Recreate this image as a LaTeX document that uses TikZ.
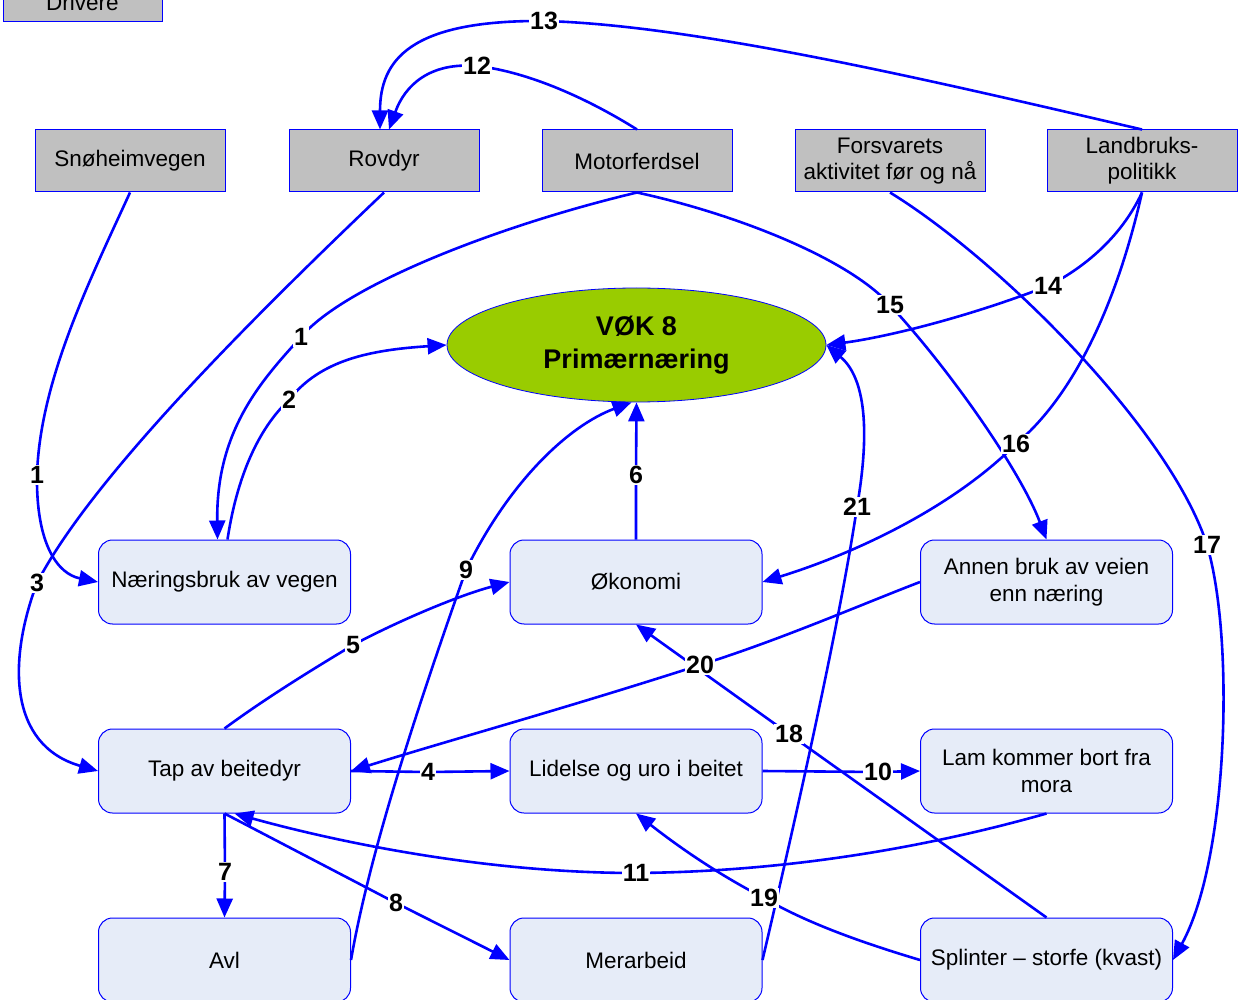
\documentclass[tikz,border=0pt]{standalone}
\usepackage{fontspec}
\setmainfont{Liberation Sans}
\usetikzlibrary{arrows.meta,shapes.geometric}
\definecolor{linkblue}{RGB}{0,0,255}
\definecolor{drvgray}{RGB}{192,192,192}
\definecolor{boxfill}{RGB}{230,236,248}
\definecolor{goalgreen}{RGB}{153,204,0}
\begin{document}
\begin{tikzpicture}[x=1pt,y=-1pt,
  driver/.style={draw=linkblue,line width=1pt,fill=drvgray,minimum width=190pt,minimum height=62pt,
    inner sep=0pt,align=center,font=\fontsize{22.5}{26}\selectfont},
  factor/.style={draw=linkblue,line width=1pt,fill=boxfill,rounded corners=14pt,minimum width=252pt,
    minimum height=84pt,inner sep=0pt,align=center,font=\fontsize{22.5}{27}\selectfont},
  goal/.style={ellipse,draw=linkblue,line width=0.8pt,fill=goalgreen,minimum width=379pt,minimum height=114pt,
    inner sep=0pt,align=center,font=\bfseries\fontsize{27}{33}\selectfont},
  link/.style={draw=linkblue,line width=2.6pt},
  arr/.style={link,-{Triangle[length=19pt,width=16pt]}},
  num/.style={fill=white,inner sep=1pt,font=\bfseries\fontsize{25}{25}\selectfont}]
\useasboundingbox (0,0) rectangle (1243,1000);
\clip (0,0) rectangle (1243,1000);

% drivers
\node[driver,minimum width=159pt,minimum height=40pt] (drv) at (82.5,2) {Drivere};
\node[driver] (sno) at (130,161) {Snøheimvegen};
\node[driver] (rov) at (384,161) {Rovdyr};
\node[driver] (mot) at (637,161) {Motorferdsel};
\node[driver] (forv) at (890,161) {Forsvarets\\aktivitet før og nå};
\node[driver] (lan) at (1142,161) {Landbruks-\\politikk};

% goal
\node[goal] (vok) at (636.5,345) {VØK 8\\Primærnæring};

% factors
\node[factor] (nae) at (224.5,582) {Næringsbruk av vegen};
\node[factor] (oko) at (636,582) {Økonomi};
\node[factor] (ann) at (1046.5,582) {Annen bruk av veien\\enn næring};
\node[factor] (tap) at (224.5,771) {Tap av beitedyr};
\node[factor] (lid) at (636,771) {Lidelse og uro i beitet};
\node[factor] (lam) at (1046.5,771) {Lam kommer bort fra\\mora};
\node[factor] (avl) at (224.5,960) {Avl};
\node[factor] (mer) at (636,960) {Merarbeid};
\node[factor] (spl) at (1046.5,960) {Splinter – storfe (kvast)};

% label positions
\coordinate (l1a) at (301,337);
\coordinate (l1b) at (37,475);
\coordinate (l2) at (289,400);
\coordinate (l3) at (37,583);
\coordinate (l4) at (428,772);
\coordinate (l5) at (353,645);
\coordinate (l6) at (636,475);
\coordinate (l7) at (225,872);
\coordinate (l8) at (396,903);
\coordinate (l9) at (466,570);
\coordinate (l10) at (878,772);
\coordinate (l11) at (636,873);
\coordinate (l12) at (477,66);
\coordinate (l13) at (544,21);
\coordinate (l14) at (1048,286);
\coordinate (l15) at (890,305);
\coordinate (l16) at (1016,444);
\coordinate (l17) at (1207,545);
\coordinate (l18) at (789,734);
\coordinate (l19) at (764,898);
\coordinate (l20) at (700,665);
\coordinate (l21) at (857,507);

% links
\draw[arr] (mot.south) .. controls (500,225) and (345,285) .. (l1a)
  .. controls (262,380) and (216,430) .. ([xshift=-7pt]nae.north);
\draw[arr] (sno.south) .. controls (90,280) and (40,380) .. (l1b)
  .. controls (36,545) and (58,574) .. (nae.west);
\draw[arr] ([xshift=3pt]nae.north) .. controls (238,470) and (262,425) .. (l2)
  .. controls (320,360) and (370,350) .. (vok.west);
\draw[arr] (rov.south) .. controls (250,320) and (90,480) .. (l3)
  .. controls (8,660) and (8,745) .. (tap.west);
\draw[arr] (tap.east) -- (l4) -- (lid.west);
\draw[arr] (tap.north) .. controls (270,695) and (320,665) .. (l5)
  .. controls (400,620) and (460,595) .. (oko.west);
\draw[arr] (oko.north) -- (l6) -- (vok.south);
\draw[arr] (tap.south) -- (l7) -- (avl.north);
\draw[arr] (tap.south) -- (l8) -- (mer.west);
\draw[arr] (avl.east) .. controls (370,850) and (420,700) .. (l9)
  .. controls (510,480) and (570,425) .. ([xshift=-5pt]vok.south);
\draw[arr] (lid.east) -- (l10) -- (lam.west);
\draw[arr] (lam.south) .. controls (900,855) and (760,872) .. (l11)
  .. controls (480,873) and (330,840) .. ([xshift=10pt]tap.south);
\draw[arr] (mot.north) .. controls (590,100) and (530,72) .. (l12)
  .. controls (430,62) and (405,85) .. ([xshift=5pt]rov.north);
\draw[arr] (lan.north) .. controls (950,85) and (700,25) .. (l13)
  .. controls (410,20) and (380,60) .. ([xshift=-4pt]rov.north);
\draw[arr] (lan.south) .. controls (1120,240) and (1080,270) .. (l14)
  .. controls (960,320) and (880,338) .. (vok.east);
\draw[arr] (mot.south) .. controls (740,215) and (850,260) .. (l15)
  .. controls (950,370) and (1020,470) .. (ann.north);
\draw[arr] (lan.south) .. controls (1120,290) and (1080,390) .. (l16)
  .. controls (950,510) and (850,555) .. (oko.east);
\draw[arr] (forv.south) .. controls (1000,260) and (1170,430) .. (l17)
  .. controls (1235,640) and (1228,860) .. (spl.east);
\draw[arr] (spl.north) -- (l18) -- (oko.south);
\draw[arr] (spl.west) .. controls (870,945) and (810,925) .. (l19)
  .. controls (710,870) and (670,840) .. (lid.south);
\draw[arr] (ann.west) .. controls (860,605) and (780,640) .. (l20)
  .. controls (560,710) and (450,740) .. (tap.east);
\draw[arr] (mer.east) .. controls (800,800) and (840,620) .. (l21)
  .. controls (872,420) and (862,375) .. (vok.east);

% link numbers
\node[num] (n1a) at (l1a) {1};
\node[num] (n1b) at (l1b) {1};
\node[num] (n2) at (l2) {2};
\node[num] (n3) at (l3) {3};
\node[num] (n4) at (l4) {4};
\node[num] (n5) at (l5) {5};
\node[num] (n6) at (l6) {6};
\node[num] (n7) at (l7) {7};
\node[num] (n8) at (l8) {8};
\node[num] (n9) at (l9) {9};
\node[num] (n10) at (l10) {10};
\node[num] (n11) at (l11) {11};
\node[num] (n12) at (l12) {12};
\node[num] (n13) at (l13) {13};
\node[num] (n14) at (l14) {14};
\node[num] (n15) at (l15) {15};
\node[num] (n16) at (l16) {16};
\node[num] (n17) at (l17) {17};
\node[num] (n18) at (l18) {18};
\node[num] (n19) at (l19) {19};
\node[num] (n20) at (l20) {20};
\node[num] (n21) at (l21) {21};
\end{tikzpicture}
\end{document}
